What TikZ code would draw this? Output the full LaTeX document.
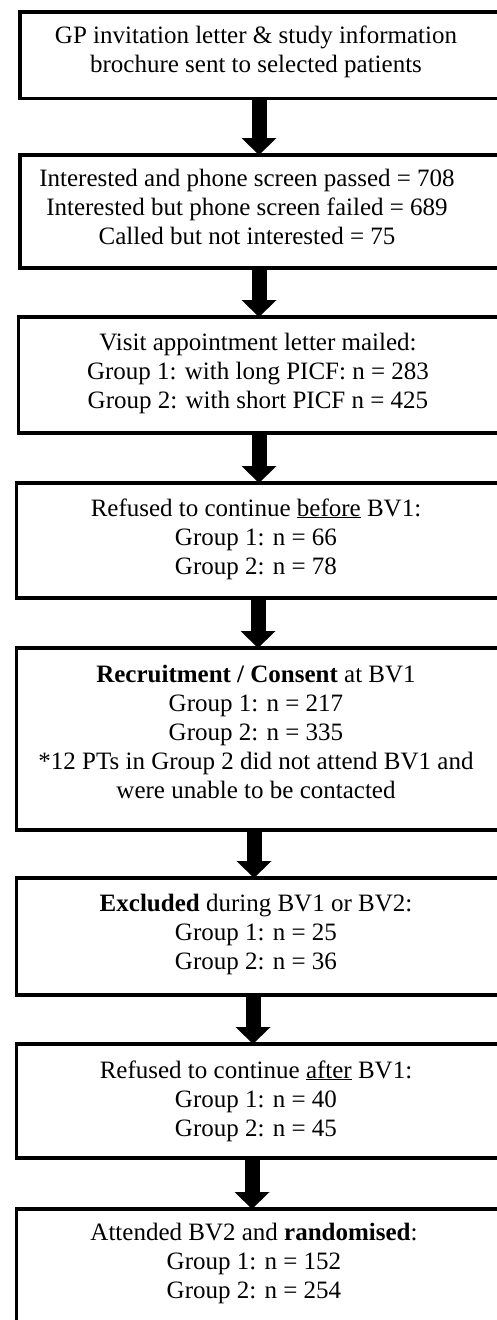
\documentclass[tikz,border=0pt]{standalone}
\usepackage{fontspec}
\setmainfont{Liberation Serif}
\usetikzlibrary{arrows.meta,calc}
\begin{document}
\begin{tikzpicture}[x=1pt,y=-1pt,
  box/.style={draw, line width=3.5pt, inner sep=0pt, outer sep=0pt, anchor=north west, minimum width=560pt},
  txt/.style={align=center, anchor=base, inner sep=0pt, font=\fontsize{25}{29}\selectfont},
  flow/.style={line width=15pt, -{Triangle[width=35pt,length=17pt,line width=0pt]}}]
\useasboundingbox (0,0) rectangle (497,1320);
\clip (0,0) rectangle (497,1320);
% boxes
\node[box, minimum height=86.5pt] (b1) at (20,12) {};
\node[box, minimum height=113pt] (b2) at (20,155) {};
\node[box, minimum height=116pt] (b3) at (18.5,317) {};
\node[box, minimum height=115pt] (b4) at (16.5,483) {};
\node[box, minimum height=182pt] (b5) at (16.5,648) {};
\node[box, minimum height=117pt] (b6) at (16.5,878) {};
\node[box, minimum height=114pt] (b7) at (16.5,1044) {};
\node[box, minimum height=160pt] (b8) at (16.5,1209) {};
% texts (anchor at baseline of the last line)
\node[txt] (t1) at (256,72) {GP invitation letter \& study information\\brochure sent to selected patients};
\node[txt] (t2) at (247,244) {Interested and phone screen passed = 708\\Interested but phone screen failed = 689\\Called but not interested = 75};
\node[txt] (t3) at (258,408) {Visit appointment letter mailed:\\Group 1: with long PICF: n = 283\\Group 2: with short PICF n = 425};
\node[txt] (t4) at (256,574) {Refused to continue \underline{before} BV1:\\Group 1: n = 66\\Group 2: n = 78};
\node[txt] (t5) at (256,798) {\textbf{Recruitment / Consent} at BV1\\Group 1: n = 217\\Group 2: n = 335\\*12 PTs in Group 2 did not attend BV1 and\\were unable to be contacted};
\node[txt] (t6) at (256,969) {\textbf{Excluded} during BV1 or BV2:\\Group 1: n = 25\\Group 2: n = 36};
\node[txt] (t7) at (256,1136) {Refused to continue \underline{after} BV1:\\Group 1: n = 40\\Group 2: n = 45};
\node[txt] (t8) at (254,1298) {Attended BV2 and \textbf{randomised}:\\Group 1: n = 152\\Group 2: n = 254};
% arrow columns
\coordinate (x1) at (259,0);
\coordinate (x2) at (259,0);
\coordinate (x3) at (259,0);
\coordinate (x4) at (258,0);
\coordinate (x5) at (254,0);
\coordinate (x6) at (253,0);
\coordinate (x7) at (252,0);
\draw[flow] (b1.south -| x1) -- (b2.north -| x1);
\draw[flow] (b2.south -| x2) -- (b3.north -| x2);
\draw[flow] (b3.south -| x3) -- (b4.north -| x3);
\draw[flow] (b4.south -| x4) -- (b5.north -| x4);
\draw[flow] (b5.south -| x5) -- (b6.north -| x5);
\draw[flow] (b6.south -| x6) -- (b7.north -| x6);
\draw[flow] (b7.south -| x7) -- (b8.north -| x7);
\end{tikzpicture}
\end{document}
